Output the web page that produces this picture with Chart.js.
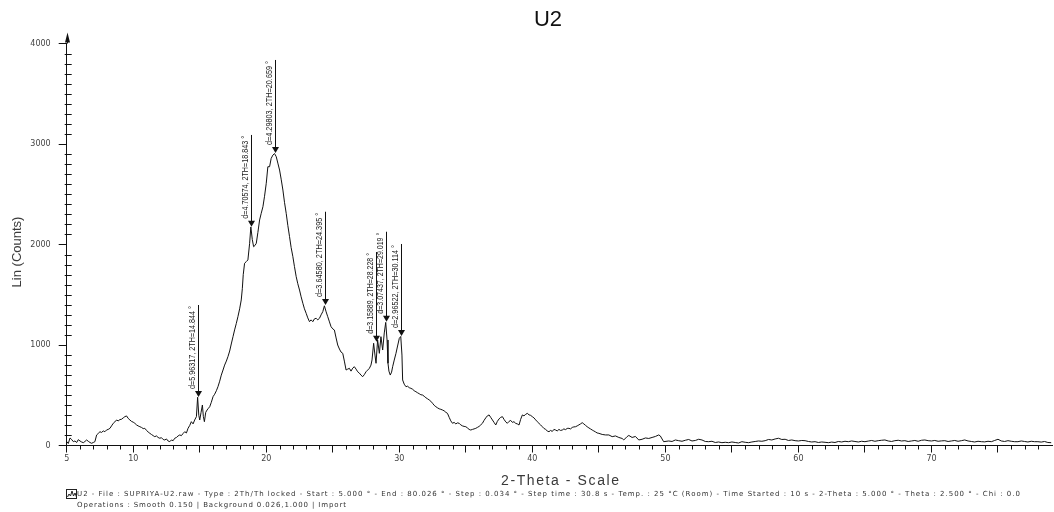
<!DOCTYPE html>
<html><head><meta charset="utf-8">
<script src="https://cdn.jsdelivr.net/npm/chart.js@4.4.1/dist/chart.umd.min.js"></script>
<style>html,body{margin:0;padding:0;background:#fff;}#wrap{width:1054px;height:512px;position:relative;}canvas{display:block;}</style>
</head><body><div id="wrap"><canvas id="c" width="1054" height="512"></canvas></div>
<script>
const chartTitle = 'U2';
const xAxisTitle = '2-Theta - Scale';
const yAxisTitle = 'Lin (Counts)';
const xTickLabels = [5, 10, 20, 30, 40, 50, 60, 70];
const yTickLabels = [0, 1000, 2000, 3000, 4000];

const twoTheta = [
 5.0,5.12,5.25,5.37,5.5,5.62,5.75,5.87,6.0,6.12,
 6.25,6.37,6.5,6.62,6.75,6.87,7.0,7.12,7.25,7.37,
 7.5,7.62,7.75,7.87,8.0,8.12,8.25,8.37,8.5,8.62,
 8.75,8.87,9.0,9.12,9.25,9.37,9.5,9.62,9.75,9.87,
 10.0,10.12,10.25,10.37,10.5,10.62,10.75,10.87,11.0,11.12,
 11.25,11.37,11.5,11.62,11.75,11.87,12.0,12.12,12.25,12.37,
 12.5,12.62,12.75,12.87,13.0,13.12,13.25,13.37,13.5,13.62,
 13.75,13.87,14.0,14.12,14.25,14.37,14.5,14.62,14.75,14.84,
 14.93,15.0,15.1,15.2,15.27,15.35,15.45,15.55,15.65,15.75,
 15.87,16.0,16.12,16.25,16.37,16.5,16.62,16.75,16.87,17.0,
 17.12,17.25,17.37,17.5,17.62,17.75,17.87,18.0,18.12,18.2,
 18.27,18.37,18.5,18.62,18.75,18.84,18.95,19.05,19.15,19.25,
 19.37,19.5,19.62,19.75,19.87,20.0,20.12,20.25,20.37,20.5,
 20.62,20.75,20.87,21.0,21.12,21.25,21.37,21.5,21.62,21.75,
 21.87,22.0,22.12,22.25,22.37,22.5,22.62,22.75,22.87,23.0,
 23.12,23.25,23.37,23.5,23.62,23.75,23.87,24.0,24.12,24.25,
 24.37,24.5,24.62,24.75,24.87,25.0,25.12,25.25,25.37,25.5,
 25.62,25.75,25.87,26.0,26.12,26.25,26.37,26.5,26.62,26.75,
 26.87,27.0,27.12,27.25,27.37,27.5,27.62,27.75,27.87,27.95,
 28.07,28.17,28.25,28.37,28.5,28.62,28.75,28.87,28.98,29.08,
 29.15,29.22,29.32,29.42,29.5,29.62,29.75,29.87,30.0,30.11,
 30.2,30.25,30.37,30.5,30.62,30.75,30.87,31.0,31.12,31.25,
 31.37,31.5,31.62,31.75,31.87,32.0,32.12,32.25,32.37,32.5,
 32.62,32.75,32.87,33.0,33.12,33.25,33.37,33.5,33.62,33.75,
 33.87,34.0,34.12,34.25,34.37,34.5,34.62,34.75,34.87,35.0,
 35.12,35.25,35.37,35.5,35.62,35.75,35.87,36.0,36.12,36.25,
 36.37,36.5,36.62,36.75,36.87,37.0,37.12,37.25,37.37,37.5,
 37.62,37.75,37.87,38.0,38.12,38.25,38.37,38.5,38.62,38.75,
 38.87,39.0,39.12,39.25,39.37,39.5,39.62,39.75,39.87,40.0,
 40.12,40.25,40.37,40.5,40.62,40.75,40.87,41.0,41.12,41.25,
 41.37,41.5,41.62,41.75,41.87,42.0,42.12,42.25,42.37,42.5,
 42.62,42.75,42.87,43.0,43.12,43.25,43.37,43.5,43.62,43.75,
 43.87,44.0,44.12,44.25,44.37,44.5,44.62,44.75,44.87,45.0,
 45.25,45.5,45.75,46.0,46.25,46.5,46.75,46.87,47.12,47.25,
 47.5,47.75,48.0,48.25,48.5,48.75,49.0,49.25,49.5,49.62,
 49.87,50.25,50.5,50.75,51.0,51.25,51.5,51.75,52.0,52.25,
 52.5,52.75,53.0,53.25,53.5,53.75,54.0,54.25,54.5,54.75,
 55.0,55.25,55.5,55.75,56.0,56.25,56.5,56.75,57.0,57.25,
 57.5,57.75,58.0,58.25,58.5,58.75,59.0,59.25,59.5,59.75,
 60.0,60.25,60.5,60.75,61.0,61.25,61.5,61.75,62.0,62.25,
 62.5,62.75,63.0,63.25,63.5,63.75,64.0,64.25,64.5,64.75,
 65.0,65.25,65.5,65.75,66.0,66.25,66.5,66.75,67.0,67.25,
 67.5,67.75,68.0,68.25,68.5,68.75,69.0,69.25,69.5,69.75,
 70.0,70.25,70.5,70.75,71.0,71.25,71.5,71.75,72.0,72.25,
 72.5,72.75,73.0,73.25,73.5,73.75,74.0,74.25,74.5,74.75,
 75.0,75.25,75.5,75.75,76.0,76.25,76.5,76.75,77.0,77.25,
 77.5,77.75,78.0,78.25,78.5,78.75,79.0
];
const counts = [
 40,20,75,60,38,45,30,58,45,35,
 28,40,55,42,30,22,30,38,105,120,
 137,130,145,137,155,160,171,195,221,235,
 254,245,258,261,275,287,294,270,254,240,
 232,221,205,195,187,180,168,171,150,135,
 121,110,98,88,95,80,72,78,60,55,
 65,45,38,55,48,72,80,95,105,98,
 120,137,125,171,200,237,215,254,287,480,
 300,254,330,403,290,237,330,353,370,386,
 430,486,510,545,585,640,700,751,800,840,
 884,940,1010,1083,1150,1215,1282,1360,1448,1560,
 1700,1813,1830,1846,2012,2175,2050,1978,1990,2012,
 2120,2244,2310,2376,2480,2609,2774,2774,2857,2890,
 2905,2874,2810,2741,2650,2542,2420,2310,2190,2078,
 1970,1879,1780,1680,1610,1547,1480,1415,1360,1315,
 1270,1232,1250,1232,1260,1266,1250,1266,1300,1332,
 1390,1330,1282,1230,1182,1160,1149,1070,1000,960,
 930,917,840,751,760,768,740,770,784,760,
 734,720,700,685,705,734,750,768,800,851,
 1017,900,818,1050,917,1083,950,1120,1225,1050,
 818,740,701,730,784,850,917,990,1066,1085,
 900,652,610,585,590,575,569,560,545,535,
 525,515,505,502,490,475,465,453,440,420,
 400,386,375,365,360,353,345,330,320,280,
 245,221,230,215,225,221,205,195,190,187,
 175,160,154,160,165,171,180,190,205,221,
 250,275,295,304,280,254,230,204,240,265,
 280,287,260,235,221,240,250,230,237,220,
 215,204,260,304,295,310,320,305,300,287,
 275,255,237,220,205,187,170,160,145,137,
 150,140,160,154,145,160,150,154,165,158,
 170,171,165,180,185,187,195,205,215,227,
 215,200,187,175,165,154,145,135,125,121,
 110,105,105,88,95,80,70,55,88,100,
 80,90,55,62,75,70,80,90,105,95,
 38,45,40,55,48,42,52,60,45,50,
 62,55,40,38,42,30,35,28,32,28,
 35,30,25,38,32,28,35,40,45,42,
 48,60,55,65,72,60,62,50,55,48,
 45,50,48,40,35,38,30,35,32,28,
 34,30,40,35,42,38,45,40,35,42,
 38,44,50,42,48,52,55,45,40,48,
 52,45,48,40,45,50,42,52,55,48,
 45,50,42,46,48,40,45,50,42,48,
 55,45,40,35,42,38,36,42,38,50,
 62,45,40,48,42,38,38,45,40,35,
 42,38,38,34,40,30,28
];

const peakTwoTheta = [14.844, 18.843, 20.659, 24.395, 28.228, 29.019, 30.114];
const peakTip = [483, 2177, 2910, 1398, 1033, 1232, 1090];
const peakTop = [1398, 3090, 3836, 2326, 1925, 2127, 2005];
const peakLabels = [
 'd=5.96317, 2TH=14.844 °',
 'd=4.70574, 2TH=18.843 °',
 'd=4.29803, 2TH=20.659 °',
 'd=3.64580, 2TH=24.395 °',
 'd=3.15889, 2TH=28.228 °',
 'd=3.07437, 2TH=29.019 °',
 'd=2.96522, 2TH=30.114 °'
];
const footerLines = [
 'U2 - File : SUPRIYA-U2.raw - Type : 2Th/Th locked - Start : 5.000 ° - End : 80.026 ° - Step : 0.034 ° - Step time : 30.8 s - Temp. : 25 °C (Room) - Time Started : 10 s - 2-Theta : 5.000 ° - Theta : 2.500 ° - Chi : 0.0',
 'Operations : Smooth 0.150 | Background 0.026,1.000 | Import'
];

function fitText(ctx, text, x, y, target) {
  ctx.letterSpacing = '0px';
  const w = ctx.measureText(text).width;
  if (w > target) {
    ctx.save(); ctx.translate(x, y); ctx.scale(target / w, 1); ctx.fillText(text, 0, 0); ctx.restore();
  } else {
    ctx.letterSpacing = ((target - w) / Math.max(1, text.length - 1)) + 'px';
    ctx.fillText(text, x, y);
    ctx.letterSpacing = '0px';
  }
}

const overlay = {
  id: 'overlay',
  afterDraw(chart) {
    const ctx = chart.ctx, xs = chart.scales.x, ys = chart.scales.y, ca = chart.chartArea;
    ctx.save();
    ctx.strokeStyle = '#111'; ctx.fillStyle = '#111'; ctx.lineWidth = 1;
    const seg = (a, b, c, d) => { ctx.beginPath(); ctx.moveTo(a, b); ctx.lineTo(c, d); ctx.stroke(); };
    // title
    ctx.font = '22px "Liberation Sans", Arial, sans-serif';
    ctx.textAlign = 'center'; ctx.textBaseline = 'middle';
    ctx.fillText(chartTitle, 548, 19.5);
    // minor ticks
    ys.ticks.forEach(t => {
      if (t.value % 100 === 0 && t.value % 1000 !== 0) {
        const p = Math.round(ys.getPixelForValue(t.value)) + 0.5;
        seg(ca.left - 2, p, ca.left + 5, p);
      }
    });
    xs.ticks.forEach(t => {
      if (Number.isInteger(t.value) && t.value % 5 !== 0) {
        const p = Math.round(xs.getPixelForValue(t.value)) + 0.5;
        seg(p, ca.bottom, p, ca.bottom + 4);
      }
    });
    // axis extension + arrow
    const ax = Math.round(ca.left) + 0.5;
    seg(ax, ca.top, ax, ca.top - 8);
    ctx.beginPath(); ctx.moveTo(ax, ca.top - 11); ctx.lineTo(ax - 2.5, ca.top - 1); ctx.lineTo(ax + 2.5, ca.top - 1); ctx.closePath(); ctx.fill();
    // peak markers
    ctx.font = '8.5px "Liberation Sans Narrow", "Liberation Sans", Arial, sans-serif';
    ctx.textBaseline = 'bottom'; ctx.textAlign = 'left';
    peakTwoTheta.forEach((tt, i) => {
      const px = Math.round(xs.getPixelForValue(tt)) + 0.5;
      const tip = ys.getPixelForValue(peakTip[i]);
      const top = ys.getPixelForValue(peakTop[i]);
      ctx.fillStyle = '#111';
      seg(px, top, px, tip - 4);
      ctx.beginPath(); ctx.moveTo(px - 3.5, tip - 6); ctx.lineTo(px + 3.5, tip - 6); ctx.lineTo(px, tip); ctx.closePath(); ctx.fill();
      const L = (tip - 8) - (top + 1);
      const w = ctx.measureText(peakLabels[i]).width;
      ctx.save();
      ctx.translate(px - 1.5, tip - 8);
      ctx.rotate(-Math.PI / 2);
      ctx.scale(L / w, 1);
      ctx.fillStyle = '#222';
      ctx.fillText(peakLabels[i], 0, 0);
      ctx.restore();
    });
    // axis titles
    ctx.fillStyle = '#3a3a3a';
    ctx.textAlign = 'left'; ctx.textBaseline = 'middle';
    ctx.font = '14px "Liberation Sans", Arial, sans-serif';
    fitText(ctx, xAxisTitle, 501, 481, 118);
    ctx.save();
    ctx.translate(17.5, 252); ctx.rotate(-Math.PI / 2);
    ctx.textAlign = 'center';
    ctx.font = '13px "Liberation Sans", Arial, sans-serif';
    ctx.fillText(yAxisTitle, 0, 0);
    ctx.restore();
    // footer icon
    ctx.strokeStyle = '#222';
    ctx.strokeRect(66.5, 489.5, 10, 9);
    ctx.beginPath();
    ctx.moveTo(67.5, 497); ctx.lineTo(69, 494); ctx.lineTo(70.5, 496); ctx.lineTo(72, 491); ctx.lineTo(73.5, 496); ctx.lineTo(75, 493); ctx.lineTo(76.5, 497);
    ctx.stroke();
    // footer text
    ctx.fillStyle = '#333';
    ctx.textAlign = 'left'; ctx.textBaseline = 'middle';
    ctx.font = '7px "DejaVu Sans", sans-serif';
    fitText(ctx, footerLines[0], 77, 494, 943);
    fitText(ctx, footerLines[1], 77, 505.5, 269);
    ctx.restore();
  }
};

new Chart(document.getElementById('c'), {
  type: 'line',
  data: {
    datasets: [{
      data: twoTheta.map((x, i) => ({ x: x, y: counts[i] })),
      borderColor: '#111', borderWidth: 1, pointRadius: 0, fill: false, tension: 0
    }]
  },
  options: {
    responsive: false, animation: false, devicePixelRatio: 1,
    layout: { padding: { left: 0, right: 0, top: 43.5, bottom: 0 } },
    plugins: {
      legend: { display: false }, tooltip: { enabled: false }, title: { display: false }
    },
    scales: {
      x: {
        type: 'linear', min: 5, max: 79.06,
        ticks: { stepSize: 1, autoSkip: false, maxRotation: 0, padding: 2, color: '#444',
          font: { family: '"DejaVu Sans", sans-serif', size: 8 },
          callback: v => xTickLabels.includes(v) ? String(v) : '' },
        grid: { drawOnChartArea: false, drawTicks: true, tickLength: 7,
          color: c => (c.tick && c.tick.value % 5 === 0) ? '#111' : 'rgba(0,0,0,0)' },
        border: { display: true, color: '#111', width: 1 },
        afterFit: s => { s.height = 66.5; }
      },
      y: {
        type: 'linear', min: 0, max: 4000,
        ticks: { stepSize: 100, autoSkip: false, padding: 8, color: '#444',
          font: { family: '"DejaVu Sans", sans-serif', size: 8 },
          callback: v => yTickLabels.includes(v) ? String(v) : '' },
        grid: { drawOnChartArea: false, drawTicks: true, tickLength: 8,
          color: c => (c.tick && yTickLabels.includes(c.tick.value)) ? '#111' : 'rgba(0,0,0,0)' },
        border: { display: true, color: '#111', width: 1 },
        afterFit: s => { s.width = 66.7; }
      }
    }
  },
  plugins: [overlay]
});
</script></body></html>
